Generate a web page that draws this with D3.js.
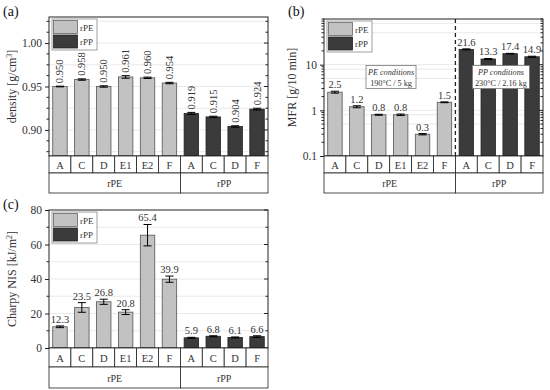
<!DOCTYPE html>
<html>
<head>
<meta charset="utf-8">
<script src="https://cdn.jsdelivr.net/npm/d3@7"></script>
<style>
  body { margin: 0; background: #fff; }
  svg { display: block; font-family: "Liberation Serif", "DejaVu Serif", serif; }
</style>
</head>
<body>
<svg id="chart" width="550" height="390"></svg>
<script>
// sample names, in drawing order
const categories = ['A', 'C', 'D', 'E1', 'E2', 'F', 'A', 'C', 'D', 'F'];
const groups = ['rPE', 'rPE', 'rPE', 'rPE', 'rPE', 'rPE', 'rPP', 'rPP', 'rPP', 'rPP'];
const groupNames = ['rPE', 'rPP'];

// (a) density
const densityValues = [0.950, 0.958, 0.950, 0.961, 0.960, 0.954, 0.919, 0.915, 0.904, 0.924];
const densityErrors = [0.0004, 0.0008, 0.0008, 0.0015, 0.0008, 0.0008, 0.0012, 0.0008, 0.0008, 0.0010];
const densityTicks = [0.90, 0.95, 1.00];

// (b) melt flow rate
const mfrValues = [2.5, 1.2, 0.8, 0.8, 0.3, 1.5, 21.6, 13.3, 17.4, 14.9];
const mfrErrors = [0.12, 0.06, 0.02, 0.03, 0.01, 0.03, 0.6, 0.35, 0.3, 0.4];
const mfrTicks = [0.1, 1, 10];
const conditionLines = [
  ['PE conditions', '190°C / 5 kg'],
  ['PP conditions', '230°C / 2.16 kg']
];

// (c) Charpy notched impact strength
const charpyValues = [12.3, 23.5, 26.8, 20.8, 65.4, 39.9, 5.9, 6.8, 6.1, 6.6];
const charpyErrors = [0.5, 2.8, 1.5, 1.4, 6.2, 1.8, 0.3, 0.3, 0.3, 0.5];
const charpyTicks = [0, 20, 40, 60, 80];

const COLORS = { rPE: '#c2c2c2', rPP: '#3b3b3b' };
const TEXT = '#333';
const svg = d3.select('#chart');

function drawPanel(cfg) {
  const g = svg.append('g');
  const x = d3.scaleBand().domain(d3.range(categories.length))
    .range([cfg.left, cfg.right]).paddingInner(0.34).paddingOuter(0.17);
  const step = x.step();
  const y = cfg.y;
  const base = cfg.y.range()[0];

  // light grid
  g.append('g').selectAll('line').data(cfg.grid).join('line')
    .attr('x1', cfg.left).attr('x2', cfg.right)
    .attr('y1', d => y(d)).attr('y2', d => y(d))
    .attr('stroke', '#e4e4e4').attr('stroke-width', 0.8);

  // bars
  g.append('g').selectAll('rect').data(cfg.values).join('rect')
    .attr('x', (d, i) => x(i))
    .attr('width', x.bandwidth())
    .attr('y', d => y(d))
    .attr('height', d => base - y(d))
    .attr('fill', (d, i) => COLORS[groups[i]])
    .attr('stroke', (d, i) => groups[i] === 'rPE' ? '#555' : '#222')
    .attr('stroke-width', 0.8);

  // error bars
  const eb = g.append('g').attr('stroke', '#000').attr('stroke-width', 1);
  cfg.values.forEach((v, i) => {
    const cx = x(i) + x.bandwidth() / 2;
    const y1 = y(v + cfg.errors[i]);
    const y0 = y(v - cfg.errors[i]);
    const cap = x.bandwidth() * 0.28;
    eb.append('line').attr('x1', cx).attr('x2', cx).attr('y1', y0).attr('y2', y1);
    eb.append('line').attr('x1', cx - cap).attr('x2', cx + cap).attr('y1', y0).attr('y2', y0);
    eb.append('line').attr('x1', cx - cap).attr('x2', cx + cap).attr('y1', y1).attr('y2', y1);
  });

  // value labels (rotated in panel a)
  const fmt = d3.format(cfg.format);
  const labels = g.append('g');
  cfg.values.forEach((v, i) => {
    const cx = x(i) + x.bandwidth() / 2;
    const top = y(v + cfg.errors[i]) - 3;
    if (cfg.rotate) {
      labels.append('g')
        .attr('transform', `translate(${cx + 3.5},${top}) rotate(-90)`)
        .append('text').attr('x', 0).attr('y', 0)
        .attr('text-anchor', 'start').attr('fill', TEXT).attr('font-size', 10.5)
        .text(fmt(v));
    } else {
      labels.append('text').attr('x', cx).attr('y', top).attr('text-anchor', 'middle')
        .attr('fill', TEXT).attr('font-size', 10.5).text(fmt(v));
    }
  });

  // left axis (outward ticks) and right mirror (inward ticks)
  const left = d3.axisLeft(y).tickValues(cfg.ticks).tickFormat(cfg.tickFormat).tickSize(4).tickPadding(3);
  const ga = g.append('g').attr('transform', `translate(${cfg.left},0)`).call(left);
  ga.select('.domain').remove();
  ga.selectAll('text').attr('font-size', 11.5).attr('fill', TEXT)
    .attr('font-family', '"Liberation Serif", serif');
  ga.selectAll('line').attr('stroke', '#222');
  g.append('g').selectAll('line').data(cfg.minor).join('line')
    .attr('x1', cfg.left - 2.5).attr('x2', cfg.left)
    .attr('y1', d => y(d)).attr('y2', d => y(d)).attr('stroke', '#222');
  g.append('g').selectAll('line').data(cfg.ticks).join('line')
    .attr('x1', cfg.right - 4).attr('x2', cfg.right)
    .attr('y1', d => y(d)).attr('y2', d => y(d)).attr('stroke', '#222');
  g.append('g').selectAll('line').data(cfg.minor).join('line')
    .attr('x1', cfg.right - 2.5).attr('x2', cfg.right)
    .attr('y1', d => y(d)).attr('y2', d => y(d)).attr('stroke', '#222');

  // frame
  g.append('rect').attr('x', cfg.left).attr('y', cfg.top)
    .attr('width', cfg.right - cfg.left).attr('height', base - cfg.top)
    .attr('fill', 'none').attr('stroke', '#222').attr('stroke-width', 1);

  // category row
  const rowH = cfg.rowH;
  const catG = g.append('g');
  categories.forEach((c, i) => {
    const x0 = cfg.left + i * step;
    catG.append('rect').attr('x', x0).attr('y', base).attr('width', step).attr('height', rowH)
      .attr('fill', '#fff').attr('stroke', '#222').attr('stroke-width', 0.8);
    catG.append('text').attr('x', x0 + step / 2).attr('y', base + rowH / 2 + 4)
      .attr('text-anchor', 'middle').attr('font-size', 10.5).attr('fill', TEXT).text(c);
  });

  // group row
  groupNames.forEach(name => {
    const idx = d3.range(categories.length).filter(i => groups[i] === name);
    const x0 = cfg.left + idx[0] * step;
    const w = idx.length * step;
    catG.append('rect').attr('x', x0).attr('y', base + rowH).attr('width', w).attr('height', cfg.groupH)
      .attr('fill', '#fff').attr('stroke', '#222').attr('stroke-width', 0.8);
    catG.append('text').attr('x', x0 + w / 2).attr('y', base + rowH + cfg.groupH / 2 + 4)
      .attr('text-anchor', 'middle').attr('font-size', 10).attr('fill', TEXT).text(name);
  });

  // legend
  const lg = g.append('g').attr('transform', `translate(${cfg.left + 3},${cfg.top + 2})`);
  lg.append('rect').attr('width', 45).attr('height', 31).attr('fill', '#fff')
    .attr('stroke', '#888').attr('stroke-width', 0.8);
  groupNames.forEach((name, i) => {
    lg.append('rect').attr('x', 1.5).attr('y', 1.5 + i * 14.5).attr('width', 24).attr('height', 13)
      .attr('fill', COLORS[name]).attr('stroke', i === 0 ? '#666' : '#222').attr('stroke-width', 0.8);
    lg.append('text').attr('x', 28).attr('y', 11.5 + i * 14.5)
      .attr('font-size', 9).attr('fill', TEXT).text(name);
  });

  // axis title
  const midY = (cfg.top + base) / 2;
  const title = g.append('text').attr('transform', `translate(${cfg.titleX},${midY}) rotate(-90)`)
    .attr('text-anchor', 'middle').attr('font-size', 12).attr('fill', TEXT);
  title.append('tspan').text(cfg.title);
  if (cfg.titleSup) {
    title.append('tspan').attr('font-size', 8).attr('dy', -4).text(cfg.titleSup);
    title.append('tspan').attr('dy', 4).text(']');
  } else {
    title.append('tspan').text(']');
  }

  // panel tag
  g.append('text').attr('x', cfg.tagX).attr('y', cfg.tagY).attr('font-size', 14)
    .attr('fill', '#111').text(cfg.tag);

  return { g, x, y, step, base };
}

// (a)
drawPanel({
  left: 49, right: 268, top: 17, rowH: 17, groupH: 20,
  y: d3.scaleLinear().domain([0.87, 1.03]).range([156, 17]),
  values: densityValues, errors: densityErrors, format: '.3f', rotate: true,
  ticks: densityTicks, tickFormat: d3.format('.2f'),
  minor: d3.range(0, 13).map(k => 0.875 + k * 0.0125).filter(v => !densityTicks.some(t => Math.abs(t - v) < 1e-6)),
  grid: d3.range(0, 7).map(k => 0.875 + k * 0.025),
  title: 'density [g/cm', titleSup: '3', titleX: 16, tag: '(a)', tagX: 3, tagY: 16
});

// (b)
const mfrMinor = [];
[0.1, 1, 10].forEach(dec => d3.range(2, 10).forEach(k => mfrMinor.push(dec * k)));
const pb = drawPanel({
  left: 324, right: 543, top: 19, rowH: 17, groupH: 20,
  y: d3.scaleLog().domain([0.1, 100]).range([156, 19]),
  values: mfrValues, errors: mfrErrors, format: '.1f', rotate: false,
  ticks: mfrTicks, tickFormat: d => String(d),
  minor: mfrMinor.concat([100]),
  grid: mfrTicks.concat(mfrMinor.filter((d, i) => i % 8 === 3 || i % 8 === 6)),
  title: 'MFR [g/10 min', titleSup: '', titleX: 296, tag: '(b)', tagX: 288, tagY: 16
});

// dashed separator between rPE and rPP
const nPE = groups.filter(d => d === 'rPE').length;
const sepX = 324 + nPE * pb.step;
pb.g.append('line').attr('x1', sepX).attr('x2', sepX).attr('y1', 19).attr('y2', pb.base)
  .attr('stroke', '#222').attr('stroke-width', 1.3).attr('stroke-dasharray', '4,3');

// condition boxes
[[3.06, 50], [8.08, 57]].forEach(([pos, w], k) => {
  const cx = 324 + pos * pb.step;
  const yTop = pb.y(9.6), yBot = pb.y(3.0);
  const bg = pb.g.append('g');
  bg.append('rect').attr('x', cx - w / 2).attr('y', yTop).attr('width', w).attr('height', yBot - yTop)
    .attr('fill', '#fff').attr('stroke', '#777').attr('stroke-width', 0.8);
  bg.append('text').attr('x', cx).attr('y', yTop + 10).attr('text-anchor', 'middle')
    .attr('font-size', 8.2).attr('font-style', 'italic').attr('fill', TEXT).text(conditionLines[k][0]);
  bg.append('text').attr('x', cx).attr('y', yTop + 20.5).attr('text-anchor', 'middle')
    .attr('font-size', 8.2).attr('fill', TEXT).text(conditionLines[k][1]);
});

// (c)
drawPanel({
  left: 49, right: 268, top: 210, rowH: 19, groupH: 21,
  y: d3.scaleLinear().domain([0, 80]).range([348, 210]),
  values: charpyValues, errors: charpyErrors, format: '.1f', rotate: false,
  ticks: charpyTicks, tickFormat: d3.format('d'),
  minor: [10, 30, 50, 70],
  grid: [10, 20, 30, 40, 50, 60, 70],
  title: 'Charpy NIS [kJ/m', titleSup: '2', titleX: 16, tag: '(c)', tagX: 3, tagY: 209
});
</script>
</body>
</html>
